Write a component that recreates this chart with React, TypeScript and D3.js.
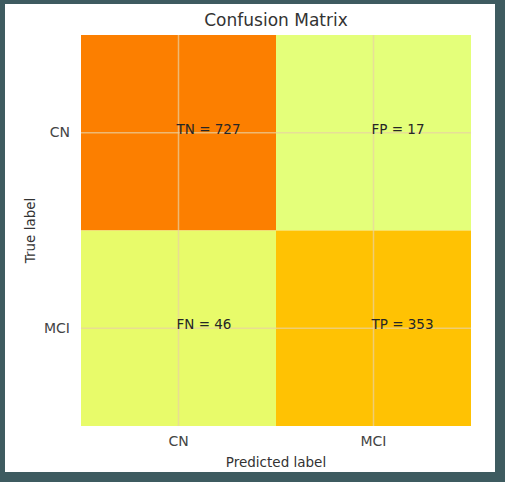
import { useEffect, useRef } from 'react';
import { select, scaleBand, scaleLinear, min, max, axisBottom, axisLeft } from 'd3';

const categories = ['CN', 'MCI'];
const cellNames = [
  ['TN', 'FP'],
  ['FN', 'TP'],
];
const counts = [
  [727, 17],
  [46, 353],
];
// matplotlib "Wistia" colormap stops
const wistiaStops = ['#e4ff7a', '#ffe81a', '#ffbd00', '#ffa000', '#fc7f00'];

interface Cell {
  row: string;
  col: string;
  name: string;
  value: number;
}

export default function App() {
  const svgRef = useRef<SVGSVGElement | null>(null);

  useEffect(() => {
    document.body.style.margin = '0';
    if (!svgRef.current) return;
    const svg = select(svgRef.current);
    svg.selectAll('*').remove();

    const width = 505;
    const height = 482;
    const plot = { left: 81, right: 471, top: 35, bottom: 426 };
    const font = '"DejaVu Sans", sans-serif';

    svg.attr('viewBox', `0 0 ${width} ${height}`);

    // dark frame + white panel
    svg.append('rect').attr('width', width).attr('height', height).attr('fill', '#3e5b60');
    svg
      .append('rect')
      .attr('x', 5)
      .attr('y', 4)
      .attr('width', 490)
      .attr('height', 468)
      .attr('fill', '#ffffff');

    const cells: Cell[] = [];
    counts.forEach((r, i) =>
      r.forEach((v, j) =>
        cells.push({ row: categories[i], col: categories[j], name: cellNames[i][j], value: v })
      )
    );

    const x = scaleBand<string>().domain(categories).range([plot.left, plot.right]);
    const y = scaleBand<string>().domain(categories).range([plot.top, plot.bottom]);

    const lo = min(cells, (d) => d.value) ?? 0;
    const hi = max(cells, (d) => d.value) ?? 1;
    const color = scaleLinear<string>()
      .domain(wistiaStops.map((_, i) => lo + ((hi - lo) * i) / (wistiaStops.length - 1)))
      .range(wistiaStops);

    svg
      .append('g')
      .selectAll('rect')
      .data(cells)
      .join('rect')
      .attr('x', (d) => x(d.col) ?? 0)
      .attr('y', (d) => y(d.row) ?? 0)
      .attr('width', x.bandwidth())
      .attr('height', y.bandwidth())
      .attr('fill', (d) => color(d.value));

    // grid at cell centres
    const grid = svg.append('g').attr('stroke', '#e8d2a4').attr('stroke-opacity', 0.7).attr('stroke-width', 1.5);
    categories.forEach((c) => {
      const cx = (x(c) ?? 0) + x.bandwidth() / 2;
      const cy = (y(c) ?? 0) + y.bandwidth() / 2;
      grid.append('line').attr('x1', cx).attr('x2', cx).attr('y1', plot.top).attr('y2', plot.bottom);
      grid.append('line').attr('x1', plot.left).attr('x2', plot.right).attr('y1', cy).attr('y2', cy);
    });

    // cell annotations, left / baseline at cell centre
    svg
      .append('g')
      .selectAll('text')
      .data(cells)
      .join('text')
      .attr('x', (d) => (x(d.col) ?? 0) + x.bandwidth() / 2 - 2)
      .attr('y', (d) => (y(d.row) ?? 0) + y.bandwidth() / 2 + 1)
      .attr('font-family', font)
      .attr('font-size', 13.5)
      .attr('fill', '#262626')
      .text((d) => `${d.name} = ${d.value}`);

    const xAxis = svg
      .append('g')
      .attr('transform', `translate(0, ${plot.bottom})`)
      .call(axisBottom(x).tickSize(0).tickPadding(10));
    xAxis.select('.domain').remove();
    xAxis
      .selectAll('text')
      .attr('font-family', font)
      .attr('font-size', 14)
      .attr('fill', '#444');

    const yAxis = svg
      .append('g')
      .attr('transform', `translate(${plot.left}, 0)`)
      .call(axisLeft(y).tickSize(0).tickPadding(11));
    yAxis.select('.domain').remove();
    yAxis
      .selectAll('text')
      .attr('font-family', font)
      .attr('font-size', 14)
      .attr('fill', '#444');

    svg
      .append('text')
      .attr('x', (plot.left + plot.right) / 2)
      .attr('y', 26)
      .attr('text-anchor', 'middle')
      .attr('font-family', font)
      .attr('font-size', 17)
      .attr('fill', '#333')
      .text('Confusion Matrix');

    svg
      .append('text')
      .attr('x', (plot.left + plot.right) / 2)
      .attr('y', 467)
      .attr('text-anchor', 'middle')
      .attr('font-family', font)
      .attr('font-size', 13.5)
      .attr('fill', '#333')
      .text('Predicted label');

    svg
      .append('text')
      .attr('transform', `translate(35, ${(plot.top + plot.bottom) / 2}) rotate(-90)`)
      .attr('text-anchor', 'middle')
      .attr('font-family', font)
      .attr('font-size', 13.5)
      .attr('fill', '#333')
      .text('True label');
  }, []);

  return <svg ref={svgRef} width={505} height={482} style={{ display: 'block' }} />;
}
